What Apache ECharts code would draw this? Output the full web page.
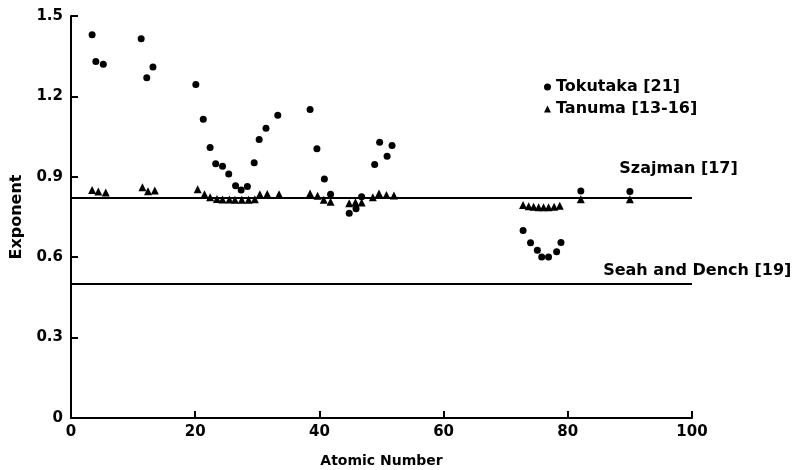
<!DOCTYPE html>
<html><head><meta charset="utf-8">
<script src="https://cdn.jsdelivr.net/npm/echarts@6/dist/echarts.min.js"></script>
<style>html,body{margin:0;padding:0;background:#fff}#c{width:796px;height:470px}</style>
</head><body><div id="c"></div>
<script>
const xTicks = [0, 20, 40, 60, 80, 100];
const yTicks = [0, 0.3, 0.6, 0.9, 1.2, 1.5];
const tokutakaX = [3.4,4.0,5.2,11.3,12.2,13.2,20.1,21.3,22.4,23.3,24.4,25.4,26.5,27.4,28.4,29.5,30.3,31.4,33.3,38.5,39.6,40.8,41.8,44.8,45.9,46.8,48.9,49.7,50.9,51.7,72.8,74.0,75.1,75.8,76.9,78.2,78.9,82.1,90.0];
const tokutakaY = [1.43,1.33,1.32,1.415,1.27,1.31,1.244,1.115,1.009,0.949,0.939,0.91,0.867,0.851,0.864,0.952,1.039,1.081,1.13,1.151,1.005,0.892,0.835,0.764,0.781,0.826,0.946,1.029,0.977,1.017,0.70,0.654,0.626,0.601,0.601,0.62,0.655,0.847,0.845];
const tanumaX = [3.4,4.4,5.6,11.5,12.4,13.5,20.4,21.5,22.4,23.5,24.4,25.5,26.4,27.5,28.6,29.6,30.4,31.6,33.5,38.5,39.7,40.7,41.8,44.8,45.8,46.8,48.6,49.6,50.8,52.0,72.8,73.7,74.5,75.3,76.1,76.9,77.8,78.7,82.1,90.0];
const tanumaY = [0.851,0.845,0.841,0.861,0.846,0.849,0.854,0.835,0.824,0.817,0.815,0.815,0.814,0.814,0.814,0.816,0.835,0.836,0.835,0.838,0.829,0.814,0.807,0.801,0.805,0.804,0.824,0.838,0.832,0.83,0.795,0.79,0.788,0.786,0.786,0.786,0.788,0.792,0.816,0.816];
const refLines = [
  {name: 'Szajman [17]', value: 0.825},
  {name: 'Seah and Dench [19]', value: 0.5}
];

const font = '"DejaVu Sans", "Liberation Sans", sans-serif';
const chart = echarts.init(document.getElementById('c'));
const txt = {fontFamily: font, fontWeight: 'bold', fontSize: 15, color: '#000'};
const big = Object.assign({}, txt, {fontSize: 16});
chart.setOption({
  animation: false,
  backgroundColor: '#fff',
  grid: {left: 71, right: 104, top: 16, bottom: 52, containLabel: false, outerBoundsMode: 'none'},
  legend: {
    orient: 'vertical', left: 539, top: 74, itemWidth: 7, itemHeight: 7, itemGap: 6,
    textStyle: big,
    data: [{name: 'Tokutaka [21]', icon: 'circle'}, {name: 'Tanuma [13-16]', icon: 'triangle'}]
  },
  xAxis: {
    type: 'value', min: 0, max: 100, interval: 20,
    name: 'Atomic Number', nameLocation: 'middle', nameGap: 36,
    nameTextStyle: Object.assign({}, txt, {fontSize: 14}),
    axisLine: {lineStyle: {color: '#000', width: 2}},
    axisTick: {show: true, inside: true, length: 7, lineStyle: {color: '#000', width: 2}},
    splitLine: {show: false},
    axisLabel: Object.assign({}, txt, {margin: 7, formatter: v => xTicks.includes(v) ? String(v) : ''})
  },
  yAxis: {
    type: 'value', min: 0, max: 1.5, interval: 0.3,
    name: 'Exponent', nameLocation: 'middle', nameGap: 46,
    nameTextStyle: big,
    axisLine: {show: true, lineStyle: {color: '#000', width: 2}},
    axisTick: {show: true, inside: true, length: 7, lineStyle: {color: '#000', width: 2}},
    splitLine: {show: false},
    axisLabel: Object.assign({}, txt, {margin: 8, formatter: v => {
      const m = yTicks.find(t => Math.abs(t - v) < 1e-9);
      return m === undefined ? '' : (m === 0 ? '0' : m.toFixed(1));
    }})
  },
  series: [
    {
      name: 'Tokutaka [21]', type: 'scatter', symbol: 'circle', symbolSize: 7,
      itemStyle: {color: '#000', opacity: 1},
      data: tokutakaX.map((x, i) => [x, tokutakaY[i]]),
      markLine: {
        silent: true, symbol: 'none',
        lineStyle: {color: '#000', width: 1.8, type: 'solid'},
        label: {show: false},
        data: refLines.map(r => ({yAxis: r.value}))
      }
    },
    {
      name: 'Tanuma [13-16]', type: 'scatter', symbol: 'triangle', symbolSize: 8,
      itemStyle: {color: '#000', opacity: 1},
      data: tanumaX.map((x, i) => [x, tanumaY[i]])
    }
  ]
});
// reference-line labels, anchored to the line values through the axis scale
const labelAnchorX = [88.3, 85.7];
const labelRise = [27, 12];
chart.setOption({
  graphic: refLines.map((r, i) => {
    const p = chart.convertToPixel({gridIndex: 0}, [labelAnchorX[i], r.value]);
    return {type: 'text', left: p[0], top: p[1] - labelRise[i] - 9,
      style: {text: r.name, font: 'bold 16px ' + font, fill: '#000'}};
  })
});
</script></body></html>
